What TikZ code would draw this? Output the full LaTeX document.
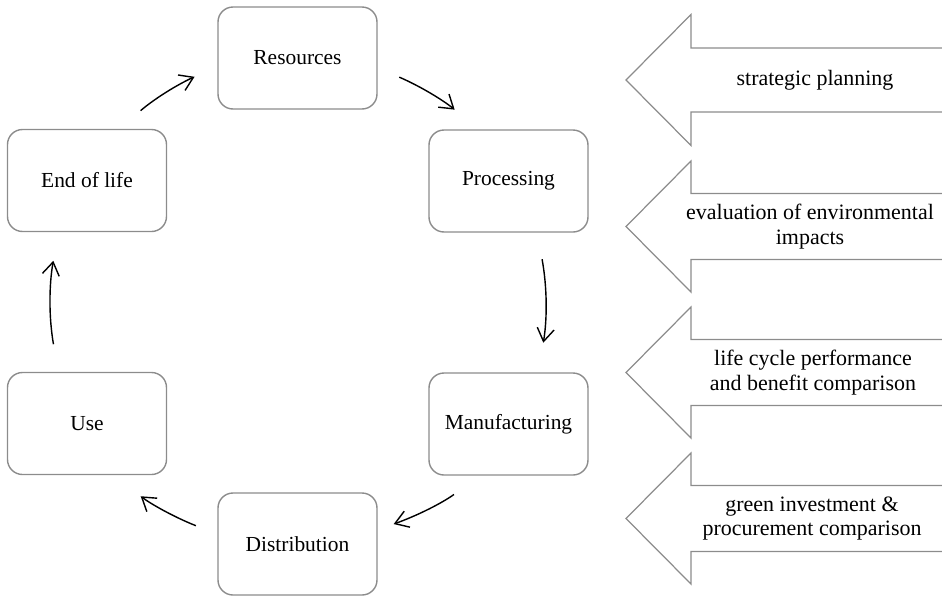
\documentclass[tikz,border=0pt]{standalone}
\usepackage{fontspec}
\setmainfont{Liberation Serif}
\usetikzlibrary{positioning, arrows.meta}

\begin{document}
\begin{tikzpicture}[
        stage/.style={draw=black!45, line width=0.8pt, rectangle, rounded corners=0.3cm, minimum width=3.18cm, minimum height=2.04cm, align=center, font=\fontsize{12.2}{14}\selectfont},
        cycle/.style={-{Straight Barb[length=2.6mm, width=3.4mm]}, line width=0.8pt, black},
        band/.style={draw=black!45, line width=0.7pt},
        bandtext/.style={align=center, font=\fontsize{12.5}{14}\selectfont}
    ]

    \useasboundingbox (0,0) rectangle (18.84,-11.94);

    % Life cycle stages
    \node[stage] (Res)  at (5.95,-1.16)  {Resources};
    \node[stage] (Proc) at (10.17,-3.62) {Processing};
    \node[stage] (Manu) at (10.17,-8.48) {Manufacturing};
    \node[stage] (Dist) at (5.95,-10.88) {Distribution};
    \node[stage] (Use)  at (1.74,-8.47)  {Use};
    \node[stage] (EoL)  at (1.74,-3.61)  {End of life};

    % Arrows round the cycle
    \draw[cycle, shorten <=0.47cm, shorten >=0.62cm] (Res.-7)   to[bend left=8] (Proc.120);
    \draw[cycle, shorten <=0.54cm, shorten >=0.6cm]  (Proc.-61) to[bend left=10] (Manu.60);
    \draw[cycle, shorten <=0.64cm, shorten >=0.34cm] (Manu.-119) to[bend left=8] (Dist.10);
    \draw[cycle, shorten <=0.46cm, shorten >=0.69cm] (Dist.173) to[bend left=8] (Use.-63);
    \draw[cycle, shorten <=0.56cm, shorten >=0.58cm] (Use.119)  to[bend left=10] (EoL.-119);
    \draw[cycle, shorten <=0.56cm, shorten >=0.5cm]  (EoL.58)   to[bend left=8] (Res.-174);

    % Block arrows
    \draw[band] (18.84,-0.96) -| (13.82,-0.29) -- (12.52,-1.6) -- (13.82,-2.91) |- (18.84,-2.24);
    \draw[band] (18.84,-3.87) -| (13.82,-3.22) -- (12.52,-4.53) -- (13.82,-5.84) |- (18.84,-5.19);
    \draw[band] (18.84,-6.79) -| (13.82,-6.14) -- (12.52,-7.45) -- (13.82,-8.76) |- (18.84,-8.11);
    \draw[band] (18.84,-9.71) -| (13.82,-9.06) -- (12.52,-10.37) -- (13.82,-11.68) |- (18.84,-11.03);

    % Block arrow texts
    \node[bandtext] (B1) at (16.3,-1.6)   {strategic planning};
    \node[bandtext] (B2) at (16.2,-4.53)  {evaluation of environmental\\impacts};
    \node[bandtext] (B3) at (16.26,-7.45) {life cycle performance\\and benefit comparison};
    \node[bandtext] (B4) at (16.24,-10.37) {green investment \&\\procurement comparison};

\end{tikzpicture}
\end{document}
